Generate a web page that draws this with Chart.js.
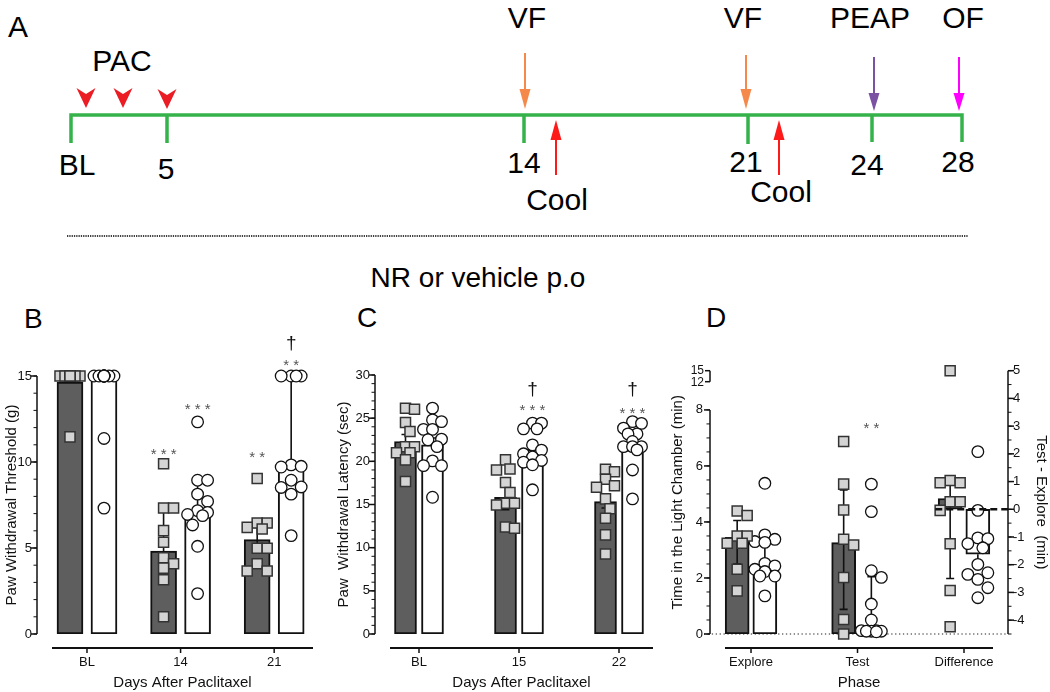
<!DOCTYPE html>
<html>
<head>
<meta charset="utf-8">
<title>NR or vehicle p.o - paclitaxel behaviour</title>
<script src="https://cdn.jsdelivr.net/npm/chart.js@4.4.1/dist/chart.umd.min.js"></script>
<style>
  body { margin: 0; background: #fff; }
  #page { position: relative; width: 1050px; height: 692px; overflow: hidden; }
  #page svg, #page canvas { position: absolute; top: 0; left: 0; }
</style>
</head>
<body>
<div id="page">
<svg width="1050" height="692" font-family="Arial, 'Liberation Sans', sans-serif" fill="#000">
  <!-- panel A : timeline -->
  <text x="8" y="37" font-size="30">A</text>
  <text x="122" y="71" font-size="30" text-anchor="middle">PAC</text>
  <g fill="#ec1c24">
    <path d="M76.5 88 L86 108 L95.5 88 L86 94 Z"/>
    <path d="M113.5 88 L123 108 L132.5 88 L123 94 Z"/>
    <path d="M157.5 89 L167 109 L176.5 89 L167 95 Z"/>
  </g>
  <g fill="none" stroke="#35b34a" stroke-width="3.5">
    <path d="M71 143 V115 H962 V142"/>
    <path d="M167 115 V143 M524 115 V143 M748 115 V144 M872 115 V142"/>
  </g>
  <g font-size="30" text-anchor="middle">
    <text x="77" y="175">BL</text>
    <text x="166" y="179">5</text>
    <text x="524" y="173">14</text>
    <text x="746" y="172">21</text>
    <text x="867" y="175">24</text>
    <text x="958" y="172">28</text>
    <text x="527" y="28">VF</text>
    <text x="743" y="28">VF</text>
    <text x="870" y="28">PEAP</text>
    <text x="963" y="28">OF</text>
    <text x="557" y="210">Cool</text>
    <text x="781" y="202">Cool</text>
  </g>
  <g stroke-width="2">
    <line x1="525" y1="53" x2="525" y2="92" stroke="#f4894b"/>
    <polygon points="519.5,89 530.5,89 525,109" fill="#f4894b"/>
    <line x1="746" y1="55" x2="746" y2="92" stroke="#f4894b"/>
    <polygon points="740.5,89 751.5,89 746,109" fill="#f4894b"/>
    <line x1="874" y1="57" x2="874" y2="96" stroke="#7b52a3"/>
    <polygon points="868.5,93 879.5,93 874,111" fill="#7b52a3"/>
    <line x1="959" y1="57" x2="959" y2="96" stroke="#ff00ff"/>
    <polygon points="953.5,93 964.5,93 959,111" fill="#ff00ff"/>
    <line x1="556" y1="175" x2="556" y2="137" stroke="#ff1a1a"/>
    <polygon points="550.5,140 561.5,140 556,120" fill="#ff1a1a"/>
    <line x1="779" y1="175" x2="779" y2="137" stroke="#ff1a1a"/>
    <polygon points="773.5,140 784.5,140 779,120" fill="#ff1a1a"/>
  </g>
  <line x1="67" y1="236" x2="968" y2="236" stroke="#000" stroke-width="1.5" stroke-dasharray="1.3 1"/>
  <text x="478" y="287" font-size="28" text-anchor="middle">NR or vehicle p.o</text>
  <!-- panel letters -->
  <text x="24" y="328" font-size="28">B</text>
  <text x="357" y="327" font-size="28">C</text>
  <text x="706" y="327" font-size="28">D</text>
</svg>
<canvas id="chartB" width="335" height="392" style="left:0;top:300px"></canvas>
<canvas id="chartC" width="340" height="392" style="left:335px;top:300px"></canvas>
<canvas id="chartD" width="385" height="392" style="left:665px;top:300px"></canvas>
</div>

<script>
/* =========================================================
   DATA  (dark = vehicle, white = NR)
========================================================== */

// B - paw withdrawal threshold (g)
const bDays = ['BL', '14', '21'];
const bVehMean = [14.65, 4.82, 5.49];
const bVehHi = [null, 7.3, 6.2];
const bVehLo = [null, 3.66, 4.8];
const bNrMean = [14.8, 7.01, 9.71];
const bNrHi = [null, 8.94, 15];
const bNrLo = [null, null, null];
const bVehPts = [
    [15, 15, 15, 15, 15, 15, 15, 15, 15, 11.46],
    [9.9, 7.32, 7.32, 6.01, 5.34, 4.43, 4.08, 3.83, 3.16, 1.0],
    [9.04, 6.45, 6.45, 6.2, 6.1, 4.99, 4.99, 4.08, 3.66, 3.66]
];
const bNrPts = [
    [15, 15, 15, 15, 15, 15, 15, 15, 15, 15, 11.37, 7.32],
    [12.33, 8.94, 8.94, 8.13, 7.71, 7.17, 7.07, 6.95, 6.88, 6.34, 5.1, 2.35],
    [15, 15, 15, 15, 9.83, 9.75, 9.71, 8.94, 8.55, 8.52, 8.13, 5.72]
];
// [text, group, series (0 vehicle / 1 NR), value]
const bMarks = [['***', 1, 0, 10.7], ['***', 1, 1, 13.3], ['**', 2, 0, 10.5], ['**', 2, 1, 15.9], ['†', 2, 1, 16.9]];

// C - paw withdrawal latency (sec)
const cDays = ['BL', '15', '22'];
const cVehMean = [22.3, 15.84, 15.34];
const cVehHi = [23.1, 17.27, 16.1];
const cVehLo = [21.5, 14.4, 14.6];
const cNrMean = [21.9, 21.4, 21.33];
const cNrHi = [22.7, 22.1, 22.5];
const cNrLo = [null, null, null];
const cVehPts = [
    [26.16, 26.04, 24.5, 23.45, 21.7, 21.7, 21.0, 21.0, 20.17, 17.66],
    [20.17, 19.1, 19.0, 17.54, 16.4, 15.15, 15.15, 14.95, 12.4, 12.25],
    [19.09, 18.8, 17.93, 17.16, 17.0, 15.65, 14.5, 13.4, 11.48, 9.27]
];
const cNrPts = [
    [26.16, 24.8, 24.6, 23.7, 23.7, 22.57, 22.5, 21.7, 20.05, 19.5, 19.5, 15.84],
    [24.42, 24.42, 23.76, 23.76, 21.9, 21.3, 20.87, 20.5, 20.1, 19.9, 19.6, 16.7],
    [24.6, 24.4, 23.84, 23.18, 23.18, 22.3, 21.7, 21.7, 21.7, 21.33, 19.0, 15.65]
];
const cMarks = [['***', 1, 1, 26.4], ['†', 1, 1, 28.3], ['***', 2, 1, 26.1], ['†', 2, 1, 28.3]];

// D - time in the light chamber (min); Difference is read on the right axis
const dPhases = ['Explore', 'Test', 'Difference'];
const dAxis = ['y', 'y', 'y2'];
const dVehMean = [3.45, 3.26, 0.39];
const dVehHi = [4.05, 5.14, 1.19];
const dVehLo = [2.5, 0.88, -2.5];
const dNrMean = [2.5, 0.26, -1.62];
const dNrHi = [3.14, 2.05, null];
const dNrLo = [null, null, -2.0];
const dVehPts = [
    [4.39, 4.23, 3.5, 3.5, 3.24, 3.24, 2.31, 1.54],
    [6.87, 5.35, 4.43, 3.38, 3.18, 2.02, 0.52, 0],
    [5.0, 1.04, 0.96, 0.96, 0.27, 0.27, -0.04, -1.24, -2.93, -4.24]
];
const dNrPts = [
    [5.38, 3.54, 3.38, 3.3, 3.27, 2.52, 2.43, 2.31, 2.23, 2.07, 2.07, 1.36],
    [5.35, 4.37, 2.26, 2.02, 1.07, 0.5, 0.12, 0.1, 0.1, 0.08, 0.1, 0.12],
    [2.08, -0.04, -1.03, -1.06, -1.24, -1.39, -1.99, -2.29, -2.35, -2.53, -2.83, -3.19]
];
const dMarks = [['**', 1, 1, 7.5]];

/* =========================================================
   STYLE
========================================================== */
const FONT = 'Arial, "Liberation Sans", sans-serif';
const VEH_FILL = '#5e5e5e';
const INK = '#111';
Chart.defaults.font.family = FONT;
Chart.defaults.color = INK;

const specs = {};

specs.chartB = {
    groups: bDays, xTitle: 'Days After Paclitaxel',
    xMin: -0.502, xMax: 2.543, off: 0.1816, barW: 26, spread: 12, step: 5,
    pad: { top: 76, right: 10 },
    y: { min: 0, max: 15, ticks: [0, 5, 10, 15], minor: 1, top: 15, w: 40, tickPad: 8,
         title: 'Paw Withdrawal Threshold (g)', titlePad: 3 },
    series: [
        { mean: bVehMean, hi: bVehHi, lo: bVehLo, pts: bVehPts },
        { mean: bNrMean, hi: bNrHi, lo: bNrLo, pts: bNrPts }
    ],
    marks: bMarks
};

specs.chartC = {
    groups: cDays, xTitle: 'Days After Paclitaxel',
    xMin: -0.41, xMax: 2.46, off: 0.135, barW: 22, spread: 9, step: 4.5,
    pad: { top: 75, right: 10 },
    y: { min: 0, max: 30, ticks: [0, 5, 10, 15, 20, 25, 30], minor: 1, top: 30, w: 43, tickPad: 8,
         title: 'Paw  Withdrawal Latency (sec)', titlePad: 0 },
    series: [
        { mean: cVehMean, hi: cVehHi, lo: cVehLo, pts: cVehPts },
        { mean: cNrMean, hi: cNrHi, lo: cNrLo, pts: cNrPts }
    ],
    marks: cMarks
};

specs.chartD = {
    groups: dPhases, axisOf: dAxis, xTitle: 'Phase',
    xMin: -0.357, xMax: 2.385, off: 0.13, barW: 24, spread: 10, step: 5,
    pad: { top: 70.7, right: 0 },
    y: { min: 0, max: 9.4, ticks: [0, 2, 4, 6, 8], minor: 0.5, top: 8, w: 48, tickPad: 10,
         title: 'Time in the Light Chamber (min)', titlePad: 4, brk: ['15', '12'] },
    y2: { min: -4.5, max: 5, ticks: [-4, -3, -2, -1, 0, 1, 2, 3, 4, 5], minor: 0.5, top: 5, w: 45, tickPad: 8,
          title: 'Test - Explore  (min)', titlePad: 0 },
    series: [
        { mean: dVehMean, hi: dVehHi, lo: dVehLo, pts: dVehPts },
        { mean: dNrMean, hi: dNrHi, lo: dNrLo, pts: dNrPts }
    ],
    marks: dMarks,
    zeroDots: true, dashFrom: 1.73
};

/* =========================================================
   PLUGIN: prism style axes, error bars and marks
========================================================== */
const prismPlugin = {
    id: 'prism',

    beforeDatasetsDraw(chart) {
        const p = specs[chart.canvas.id];
        if (!p.zeroDots) return;
        const { ctx, chartArea: ca } = chart;
        const y = chart.scales.y.getPixelForValue(0);
        ctx.save();
        ctx.strokeStyle = '#222';
        ctx.lineWidth = 1.2;
        ctx.setLineDash([1.3, 2.6]);
        ctx.beginPath();
        ctx.moveTo(ca.left - 9, y);
        ctx.lineTo(ca.right + 3, y);
        ctx.stroke();
        ctx.restore();
    },

    afterDatasetDraw(chart, args) {
        const ds = chart.data.datasets[args.index];
        if (ds.type !== 'bar') return;
        const ctx = chart.ctx, xs = chart.scales.x, ys = chart.scales[ds.yAxisID];
        ctx.save();
        ctx.strokeStyle = INK;
        ctx.lineWidth = 1.6;
        ds.data.forEach(d => {
            if (d.hi == null && d.lo == null) return;
            const x = xs.getPixelForValue(d.x);
            const y1 = ys.getPixelForValue(d.hi ?? d.y);
            const y2 = ys.getPixelForValue(d.lo ?? d.y);
            ctx.beginPath();
            ctx.moveTo(x, y1);
            ctx.lineTo(x, y2);
            if (d.hi != null) { ctx.moveTo(x - 4, y1); ctx.lineTo(x + 4, y1); }
            if (d.lo != null) { ctx.moveTo(x - 4, y2); ctx.lineTo(x + 4, y2); }
            ctx.stroke();
        });
        ctx.restore();
    },

    afterDraw(chart) {
        const p = specs[chart.canvas.id];
        const { ctx, chartArea: ca } = chart;
        const xs = chart.scales.x;
        const seg = (x1, y1, x2, y2) => { ctx.beginPath(); ctx.moveTo(x1, y1); ctx.lineTo(x2, y2); ctx.stroke(); };
        ctx.save();
        ctx.strokeStyle = INK;
        ctx.fillStyle = INK;

        // y axes, set a little apart from the plot
        [['y', -1], ['y2', 1]].forEach(([id, dir]) => {
            const a = p[id], s = chart.scales[id];
            if (!a || !s) return;
            const ax = dir < 0 ? ca.left - 3 : ca.right + 3;
            ctx.lineWidth = 1.5;
            seg(ax, s.getPixelForValue(a.min), ax, s.getPixelForValue(a.top));
            a.ticks.forEach(v => { const y = s.getPixelForValue(v); seg(ax, y, ax + dir * 6, y); });
            ctx.lineWidth = 1;
            for (let k = 0; a.min + k * a.minor <= a.top + 1e-6; k++) {
                const y = s.getPixelForValue(a.min + k * a.minor);
                seg(ax, y, ax + dir * 3.5, y);
            }
            if (a.brk) {
                // broken axis stub above the break
                const t = ca.top, b = ca.top + 11;
                ctx.lineWidth = 1.5;
                seg(ax, t, ax, b);
                seg(ax, t, ax - 5, t);
                seg(ax, b, ax - 5, b);
                ctx.font = '12px ' + FONT;
                ctx.textAlign = 'right';
                ctx.textBaseline = 'middle';
                ctx.fillText(a.brk[0], ax - 6, t);
                ctx.fillText(a.brk[1], ax - 6, b + 1);
            }
        });

        // detached x axis
        const xy = ca.bottom + 14;
        ctx.lineWidth = 2;
        seg(ca.left + 12, xy, ca.right - 12, xy);
        ctx.lineWidth = 1.5;
        p.groups.forEach((_, g) => { const x = xs.getPixelForValue(g); seg(x, xy, x, xy + 5); });

        // dashed zero line of the right axis
        if (p.dashFrom != null) {
            const y = chart.scales.y2.getPixelForValue(0);
            ctx.lineWidth = 2.5;
            ctx.setLineDash([7, 4]);
            seg(xs.getPixelForValue(p.dashFrom), y, ca.right + 3, y);
            ctx.setLineDash([]);
        }

        // significance marks
        ctx.textAlign = 'center';
        p.marks.forEach(([t, g, si, v]) => {
            const s = chart.scales[p.axisOf ? p.axisOf[g] : 'y'];
            const x = xs.getPixelForValue(g + (si ? p.off : -p.off));
            const y = s.getPixelForValue(v);
            if (t === '†') {
                ctx.font = '19px ' + FONT;
                ctx.fillStyle = INK;
                ctx.textBaseline = 'middle';
                ctx.fillText(t, x, y);
            } else {
                ctx.font = '15px ' + FONT;
                ctx.fillStyle = '#555';
                ctx.textBaseline = 'alphabetic';
                ctx.fillText(t.split('').join(' '), x, y + 9);
            }
        });
        ctx.restore();
    }
};

/* =========================================================
   BUILD
========================================================== */
function yScale(a, pos) {
    return {
        type: 'linear', position: pos, min: a.min, max: a.max,
        afterBuildTicks: s => { s.ticks = a.ticks.map(v => ({ value: v })); },
        afterFit: s => { s.width = a.w; },
        grid: { display: false, drawTicks: false },
        border: { display: false },
        ticks: { font: { size: 13 }, color: INK, padding: a.tickPad },
        title: { display: true, text: a.title, font: { size: 15 }, color: INK, padding: { top: a.titlePad, bottom: 0 } }
    };
}

function buildPanel(id) {
    const p = specs[id];
    const axisOf = g => (p.axisOf ? p.axisOf[g] : 'y');
    const datasets = [];

    p.series.forEach((s, si) => {
        const off = si ? p.off : -p.off;
        const axes = [...new Set(p.groups.map((_, g) => axisOf(g)))];
        axes.forEach(ax => {
            const bars = [], pts = [];
            s.mean.forEach((m, g) => {
                if (axisOf(g) !== ax) return;
                bars.push({ x: g + off, y: m, hi: s.hi[g], lo: s.lo[g] });
                s.pts[g].forEach(v => pts.push({ x: g + off, y: v, c: g + off }));
            });
            datasets.push({
                type: 'bar', yAxisID: ax, data: bars, order: 2, grouped: false,
                barThickness: p.barW, backgroundColor: si ? '#fff' : VEH_FILL,
                borderColor: INK, borderWidth: 2, borderSkipped: false
            });
            datasets.push({
                type: 'scatter', yAxisID: ax, data: pts, order: 1, clip: false,
                pointStyle: si ? 'circle' : 'rect',
                pointRadius: si ? 5.8 : 7.1,
                pointBackgroundColor: si ? '#fff' : '#d4d4d4',
                pointBorderColor: si ? INK : '#333',
                pointBorderWidth: si ? 1.3 : 1.5
            });
        });
    });

    const scales = {
        x: {
            type: 'linear', min: p.xMin, max: p.xMax, offset: false,
            afterBuildTicks: s => { s.ticks = p.groups.map((_, i) => ({ value: i })); },
            afterFit: s => { s.height = 58; },
            grid: { display: false, drawTicks: false, offset: false },
            border: { display: false },
            ticks: { callback: v => p.groups[v], font: { size: 13 }, color: INK, padding: 21, maxRotation: 0, autoSkip: false },
            title: { display: true, text: p.xTitle, font: { size: 15 }, color: INK, padding: { top: 0, bottom: 0 } }
        },
        y: yScale(p.y, 'left')
    };
    if (p.y2) scales.y2 = yScale(p.y2, 'right');

    const chart = new Chart(document.getElementById(id), {
        type: 'bar',
        data: { datasets },
        options: {
            responsive: false,
            animation: false,
            events: [],
            layout: { padding: { top: p.pad.top, right: p.pad.right, left: 0, bottom: 0 } },
            plugins: { legend: { display: false }, tooltip: { enabled: false } },
            scales
        },
        plugins: [prismPlugin]
    });

    swarm(chart, p);
}

// spread overlapping points sideways, like a scatter-dot plot
function swarm(chart, p) {
    const xs = chart.scales.x;
    const cands = [0];
    for (let k = 1; k * p.step <= p.spread + 1e-6; k++) cands.push(k * p.step, -k * p.step);

    chart.data.datasets.forEach(ds => {
        if (ds.type !== 'scatter') return;
        const ys = chart.scales[ds.yAxisID];
        const dia = ds.pointStyle === 'rect' ? 10 : 11.6;
        const byCentre = new Map();
        ds.data.forEach(d => {
            if (!byCentre.has(d.c)) byCentre.set(d.c, []);
            byCentre.get(d.c).push(d);
        });
        const out = [];
        byCentre.forEach((list, c) => {
            const cx = xs.getPixelForValue(c);
            const placed = [];
            list.slice().sort((a, b) => b.y - a.y).forEach(d => {
                const py = ys.getPixelForValue(d.y);
                let best = 0, bestScore = -Infinity;
                cands.forEach(o => {
                    let near = dia;
                    placed.forEach(q => { near = Math.min(near, Math.hypot(o - q.o, py - q.y)); });
                    const score = near - Math.abs(o) * 0.01;
                    if (score > bestScore) { bestScore = score; best = o; }
                });
                placed.push({ o: best, y: py });
                out.push({ x: xs.getValueForPixel(cx + best), y: d.y, c: d.c });
            });
        });
        ds.data = out;
    });
    chart.update('none');
}

buildPanel('chartB');
buildPanel('chartC');
buildPanel('chartD');
</script>
</body>
</html>
